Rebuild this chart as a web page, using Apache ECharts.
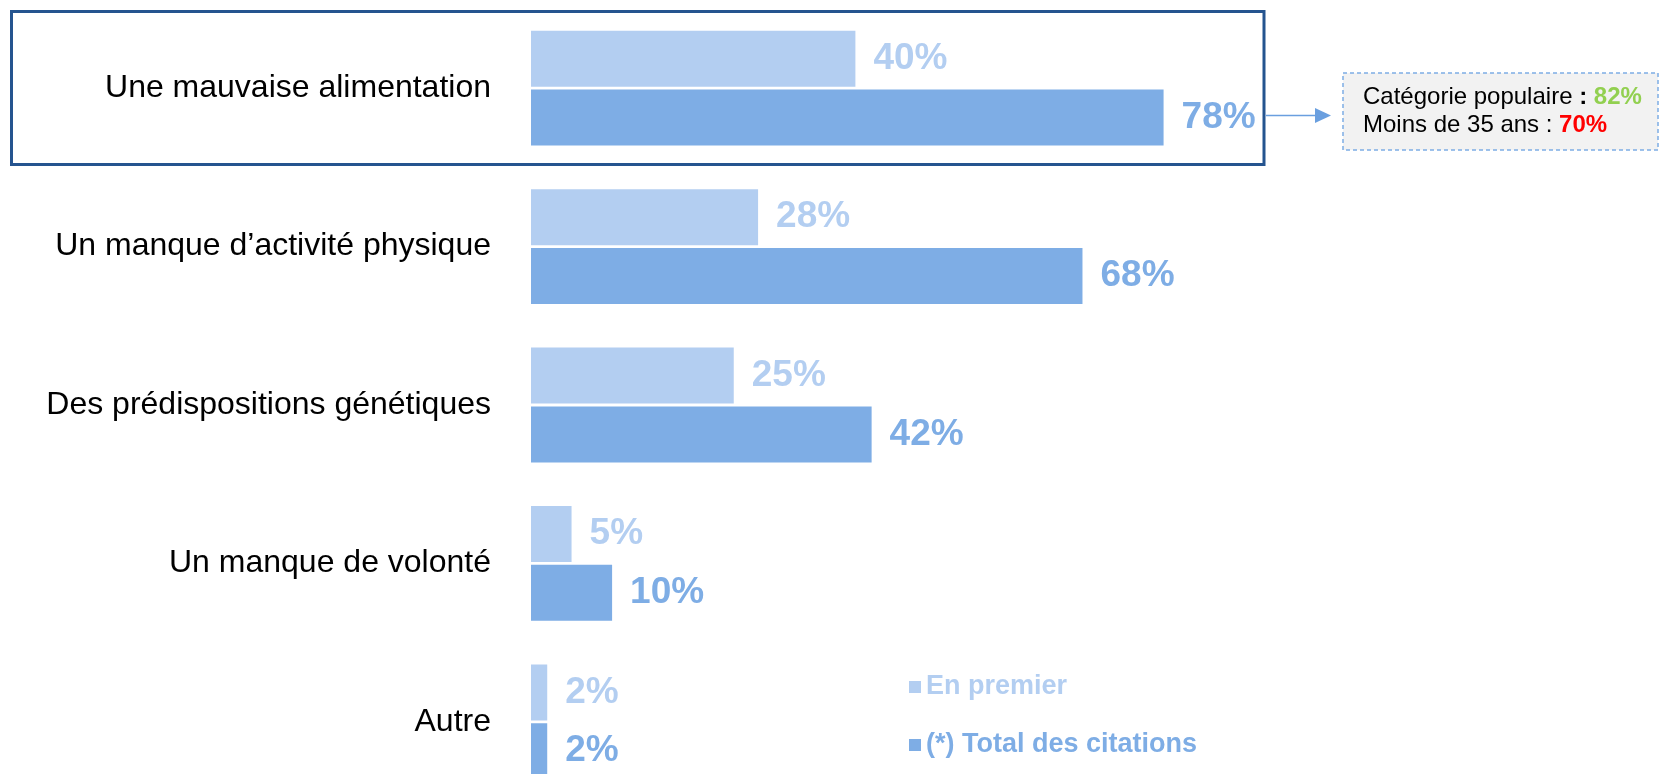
<!DOCTYPE html>
<html>
<head>
<meta charset="utf-8">
<script src="https://cdn.jsdelivr.net/npm/echarts@6/dist/echarts.min.js"></script>
<style>
  html, body { margin: 0; padding: 0; background: #fff; overflow: hidden; }
  /* taller than the window: the last row is cut off at the bottom, as in the original */
  #chart { width: 1660px; height: 810px; }
</style>
</head>
<body>
<div id="chart"></div>
<script>
const categories = [
  'Une mauvaise alimentation',
  'Un manque d\u2019activité physique',
  'Des prédispositions génétiques',
  'Un manque de volonté',
  'Autre'
]
const firstValues = [40, 28, 25, 5, 2]
const totalValues = [78, 68, 42, 10, 2]
const seriesNames = ['En premier', '(*) Total des citations']
const calloutLabels = ['Catégorie populaire', 'Moins de 35 ans']
const calloutValues = [82, 70]

const FONT = '"Liberation Sans", Arial, sans-serif'
const LIGHT = '#B3CEF1'
const DARK = '#7EADE5'

const chart = echarts.init(document.getElementById('chart'))

const valueLabel = (color) => ({
  show: true,
  position: 'right',
  distance: 18,
  formatter: '{c}%',
  fontSize: 37,
  fontWeight: 'bold',
  color: color,
  fontFamily: FONT
})

const option = {
  animation: false,
  textStyle: { fontFamily: FONT },
  grid: { left: 531, width: 811, top: 9, height: 792 },
  xAxis: {
    type: 'value',
    min: 0,
    max: 100,
    show: false
  },
  yAxis: {
    type: 'category',
    inverse: true,
    data: categories,
    axisLine: { show: false },
    axisTick: { show: false },
    axisLabel: {
      margin: 40,
      fontSize: 32,
      color: '#000',
      fontFamily: FONT
    }
  },
  legend: {
    orient: 'vertical',
    left: 904,
    top: 667,
    icon: 'rect',
    itemWidth: 12,
    itemHeight: 12,
    itemGap: 28,
    selectedMode: false,
    textStyle: { fontSize: 27, fontWeight: 'bold', lineHeight: 30, fontFamily: FONT },
    data: [
      { name: seriesNames[0], textStyle: { color: LIGHT } },
      { name: seriesNames[1], textStyle: { color: DARK } }
    ]
  },
  series: [
    {
      name: seriesNames[0],
      type: 'bar',
      data: firstValues,
      barWidth: 56,
      barGap: '5%',
      itemStyle: { color: LIGHT },
      label: valueLabel(LIGHT)
    },
    {
      name: seriesNames[1],
      type: 'bar',
      data: totalValues,
      barWidth: 56,
      itemStyle: { color: DARK },
      label: valueLabel(DARK)
    }
  ],
  graphic: [
    // highlight box around the first row
    {
      type: 'rect',
      shape: { x: 11.5, y: 11.5, width: 1252.5, height: 153 },
      style: { fill: 'none', stroke: '#25548F', lineWidth: 3 }
    },
    // arrow to the callout
    {
      type: 'line',
      shape: { x1: 1266, y1: 115.5, x2: 1317, y2: 115.5 },
      style: { stroke: '#6A9FDF', lineWidth: 1.5 }
    },
    {
      type: 'polygon',
      shape: { points: [[1315, 108], [1331, 115.5], [1315, 123]] },
      style: { fill: '#6A9FDF' }
    },
    // callout box
    {
      type: 'rect',
      shape: { x: 1343, y: 73, width: 315, height: 77 },
      style: { fill: '#F2F2F2', stroke: '#7EADE5', lineWidth: 1.5, lineDash: [4, 3] }
    },
    {
      type: 'text',
      x: 1363,
      y: 97,
      style: {
        text: '{t|' + calloutLabels[0] + ' }{b|: }{g|' + calloutValues[0] + '%}',
        verticalAlign: 'middle',
        fill: '#000',
        rich: {
          t: { fontSize: 24, fill: '#000', fontFamily: FONT },
          b: { fontSize: 24, fill: '#000', fontWeight: 'bold', fontFamily: FONT },
          g: { fontSize: 24, fill: '#92D050', fontWeight: 'bold', fontFamily: FONT }
        }
      }
    },
    {
      type: 'text',
      x: 1363,
      y: 125.5,
      style: {
        text: '{t|' + calloutLabels[1] + ' : }{r|' + calloutValues[1] + '%}',
        verticalAlign: 'middle',
        fill: '#000',
        rich: {
          t: { fontSize: 24, fill: '#000', fontFamily: FONT },
          r: { fontSize: 24, fill: '#FF0000', fontWeight: 'bold', fontFamily: FONT }
        }
      }
    }
  ]
}

chart.setOption(option)
window.addEventListener('resize', () => chart.resize())
</script>
</body>
</html>
